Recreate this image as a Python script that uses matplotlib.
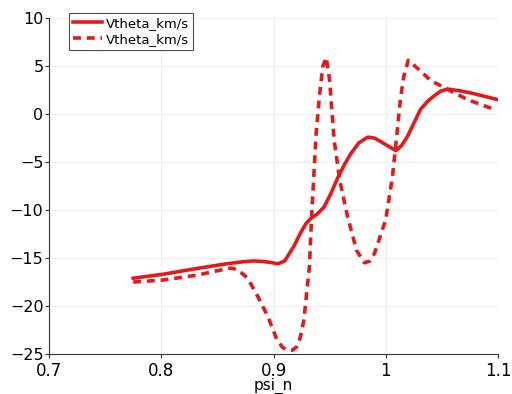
import numpy as np
import matplotlib
matplotlib.use("Agg")
from matplotlib import pyplot as plt

## solid curve
psi_solid = [0.775, 0.801, 0.831, 0.858, 0.872, 0.882, 0.890, 0.897, 0.904, 0.910, 0.918,
             0.924, 0.929, 0.933, 0.939, 0.945, 0.951, 0.957, 0.963, 0.969, 0.976, 0.984,
             0.990, 0.996, 1.003, 1.009, 1.014, 1.019, 1.024, 1.031, 1.037, 1.043, 1.049,
             1.055, 1.065, 1.076, 1.088, 1.1]
v_solid = [-17.1, -16.7, -16.1, -15.6, -15.4, -15.3, -15.35, -15.45, -15.6, -15.3, -13.8,
           -12.4, -11.4, -10.9, -10.4, -9.7, -8.3, -6.7, -5.3, -4.1, -3.0, -2.4,
           -2.5, -2.9, -3.4, -3.8, -3.3, -2.4, -1.2, 0.5, 1.3, 1.9, 2.4,
           2.6, 2.45, 2.2, 1.85, 1.5]

## dashed curve
psi_dash = [0.775, 0.801, 0.831, 0.853, 0.862, 0.868, 0.877, 0.886, 0.895, 0.903, 0.908, 0.912,
            0.917, 0.921, 0.924, 0.927, 0.932, 0.934, 0.938, 0.941, 0.944, 0.947, 0.950,
            0.954, 0.959, 0.966, 0.974, 0.981, 0.986, 0.990, 1.000, 1.006, 1.010, 1.013,
            1.016, 1.020, 1.028, 1.040, 1.058, 1.073, 1.094]
v_dash = [-17.5, -17.3, -16.8, -16.25, -16.05, -16.2, -17.1, -19.0, -21.1, -23.5, -24.3, -24.6,
          -24.6, -24.2, -23.2, -21.5, -15.9, -10.5, -2.0, 2.0, 5.0, 5.9, 3.5,
          -2.7, -6.9, -10.7, -14.2, -15.5, -15.3, -14.5, -11.0, -6.5, -2.0, 1.5,
          3.9, 5.6, 4.8, 3.5, 2.4, 1.5, 0.6]

red = "#e31a1c"
plt.rcParams['font.family'] = ['DejaVu Sans']

fig = plt.figure(figsize=(5.12, 3.94), dpi=100)
ax = fig.add_axes([0.0957, 0.1015, 0.877, 0.8525])

ax.plot(psi_solid, v_solid, color=red, lw=2.6, label="Vtheta_km/s")
ax.plot(psi_dash, v_dash, color=red, lw=2.6, ls=(0, (2.2, 1.6)), label="Vtheta_km/s")

ax.set_xlim(0.7, 1.1)
ax.set_ylim(-25, 10)
ax.set_xticks([0.7, 0.8, 0.9, 1.0, 1.1])
ax.set_xticklabels(["0.7", "0.8", "0.9", "1", "1.1"])
ax.set_yticks([-25, -20, -15, -10, -5, 0, 5, 10])
ax.grid(True, color="#eeeeee", lw=0.8)
ax.set_axisbelow(True)
for s in ["top", "right"]:
    ax.spines[s].set_visible(False)
for s in ["left", "bottom"]:
    ax.spines[s].set_color("#333333")
ax.tick_params(axis="y", labelsize=11.5, length=3, color="#333333", pad=1)
ax.tick_params(axis="x", labelsize=12, length=3, color="#333333", pad=2.5)
ax.set_xlabel("psi_n", fontsize=11)
ax.xaxis.set_label_coords(0.5, -0.072)

leg = ax.legend(loc="upper left", bbox_to_anchor=(0.045, 1.015), fontsize=9.5,
                frameon=True, fancybox=False, handlelength=2.2, handletextpad=0.3,
                borderpad=0.3, labelspacing=0.2, borderaxespad=0)
leg.get_frame().set_edgecolor("#222222")
leg.get_frame().set_linewidth(0.8)

fig.savefig("out.png", dpi=100)
